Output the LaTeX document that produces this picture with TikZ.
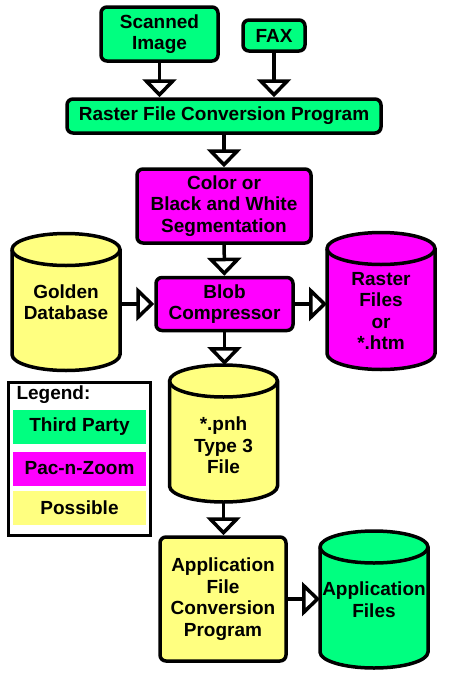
\documentclass[tikz,border=0pt]{standalone}
\usepackage{fontspec}
\setmainfont{Liberation Sans}
\usetikzlibrary{arrows.meta,backgrounds}
\definecolor{thirdparty}{RGB}{0,255,128}
\definecolor{pacnzoom}{RGB}{255,0,255}
\definecolor{possible}{RGB}{255,255,128}
\begin{document}
\begin{tikzpicture}[
			x=1pt, y=-1pt,
			every node/.style={font=\fontsize{19}{21.5}\selectfont\bfseries, align=center},
			proc/.style={draw, line width=3.5pt, rounded corners=6pt, inner sep=0pt},
			store/.style={minimum width=108pt, minimum height=137pt, inner sep=0pt, outer sep=0pt},
			flow/.style={line width=3.5pt, -{Triangle[length=18pt, width=34pt, fill=white, line width=3.5pt]}},
			swatch/.style={minimum width=133pt, minimum height=34pt, inner sep=0pt}
		]
		\useasboundingbox (0,0) rectangle (450,678);
		\node[proc, fill=thirdparty, minimum width=117pt, minimum height=54pt] (scan) at (159.5,34) {Scanned\\Image};
		\node[proc, fill=thirdparty, minimum width=62pt, minimum height=31pt] (fax) at (274,35.5) {FAX};
		\node[proc, fill=thirdparty, minimum width=314pt, minimum height=34pt] (raster) at (224,116) {Raster File Conversion Program};
		\node[proc, fill=pacnzoom, minimum width=174pt, minimum height=74pt] (seg) at (224,206) {Color or\\Black and White\\Segmentation};
		\node[proc, fill=pacnzoom, minimum width=137pt, minimum height=53pt] (blob) at (224.5,304) {Blob\\Compressor};
		\node[store] (golden) at (66,302) {Golden\\Database};
		\node[store, text height=98pt] (rfiles) at (381,301) {Raster\\Files\\or\\*.htm};
		\node[store, text height=81pt] (pnh) at (223.5,433.5) {*.pnh\\Type 3\\File};
		\node[proc, fill=possible, minimum width=126pt, minimum height=124pt] (afcp) at (223,599) {Application\\File\\Conversion\\Program};
		\node[store] (afiles) at (374,599.5) {Application\\Files};
		\begin{scope}[on background layer]
			\foreach \n/\c in {golden/possible, rfiles/pacnzoom, pnh/possible, afiles/thirdparty} {
					\filldraw[fill=\c, line width=3.5pt] ([yshift=-16pt]\n.north west) -- ([yshift=16pt]\n.south west)
					arc[start angle=180, end angle=360, x radius=54pt, y radius=16pt]
					-- ([yshift=-16pt]\n.north east)
					arc[start angle=0, end angle=180, x radius=54pt, y radius=16pt] -- cycle;
					\draw[line width=3.5pt] ([yshift=-16pt]\n.north west)
					arc[start angle=180, end angle=360, x radius=54pt, y radius=16pt];
				}
		\end{scope}
		\draw[flow] (scan.south) -- (scan.south |- raster.north);
		\draw[flow] (fax.south) -- (fax.south |- raster.north);
		\draw[flow] (raster) -- (seg);
		\draw[flow] (seg) -- (blob);
		\draw[flow] (blob.west -| golden.east) -- (blob.west);
		\draw[flow] (blob.east) -- (blob.east -| rfiles.west);
		\draw[flow] (blob.south) -- (blob.south |- pnh.north);
		\draw[flow] (pnh.south) -- (pnh.south |- afcp.north);
		\draw[flow] (afcp.east) -- (afcp.east -| afiles.west);
		\node[draw, line width=3pt, minimum width=142pt, minimum height=153pt] (legend) at (79.5,459) {};
		\node[anchor=west] (legendtitle) at (13,395) {Legend:};
		\node[swatch, fill=thirdparty] (lthird) at (79.5,427) {Third Party};
		\node[swatch, fill=pacnzoom] (lpac) at (79.5,468.5) {Pac-n-Zoom};
		\node[swatch, fill=possible] (lposs) at (79.5,507.5) {Possible};
	\end{tikzpicture}
\end{document}
